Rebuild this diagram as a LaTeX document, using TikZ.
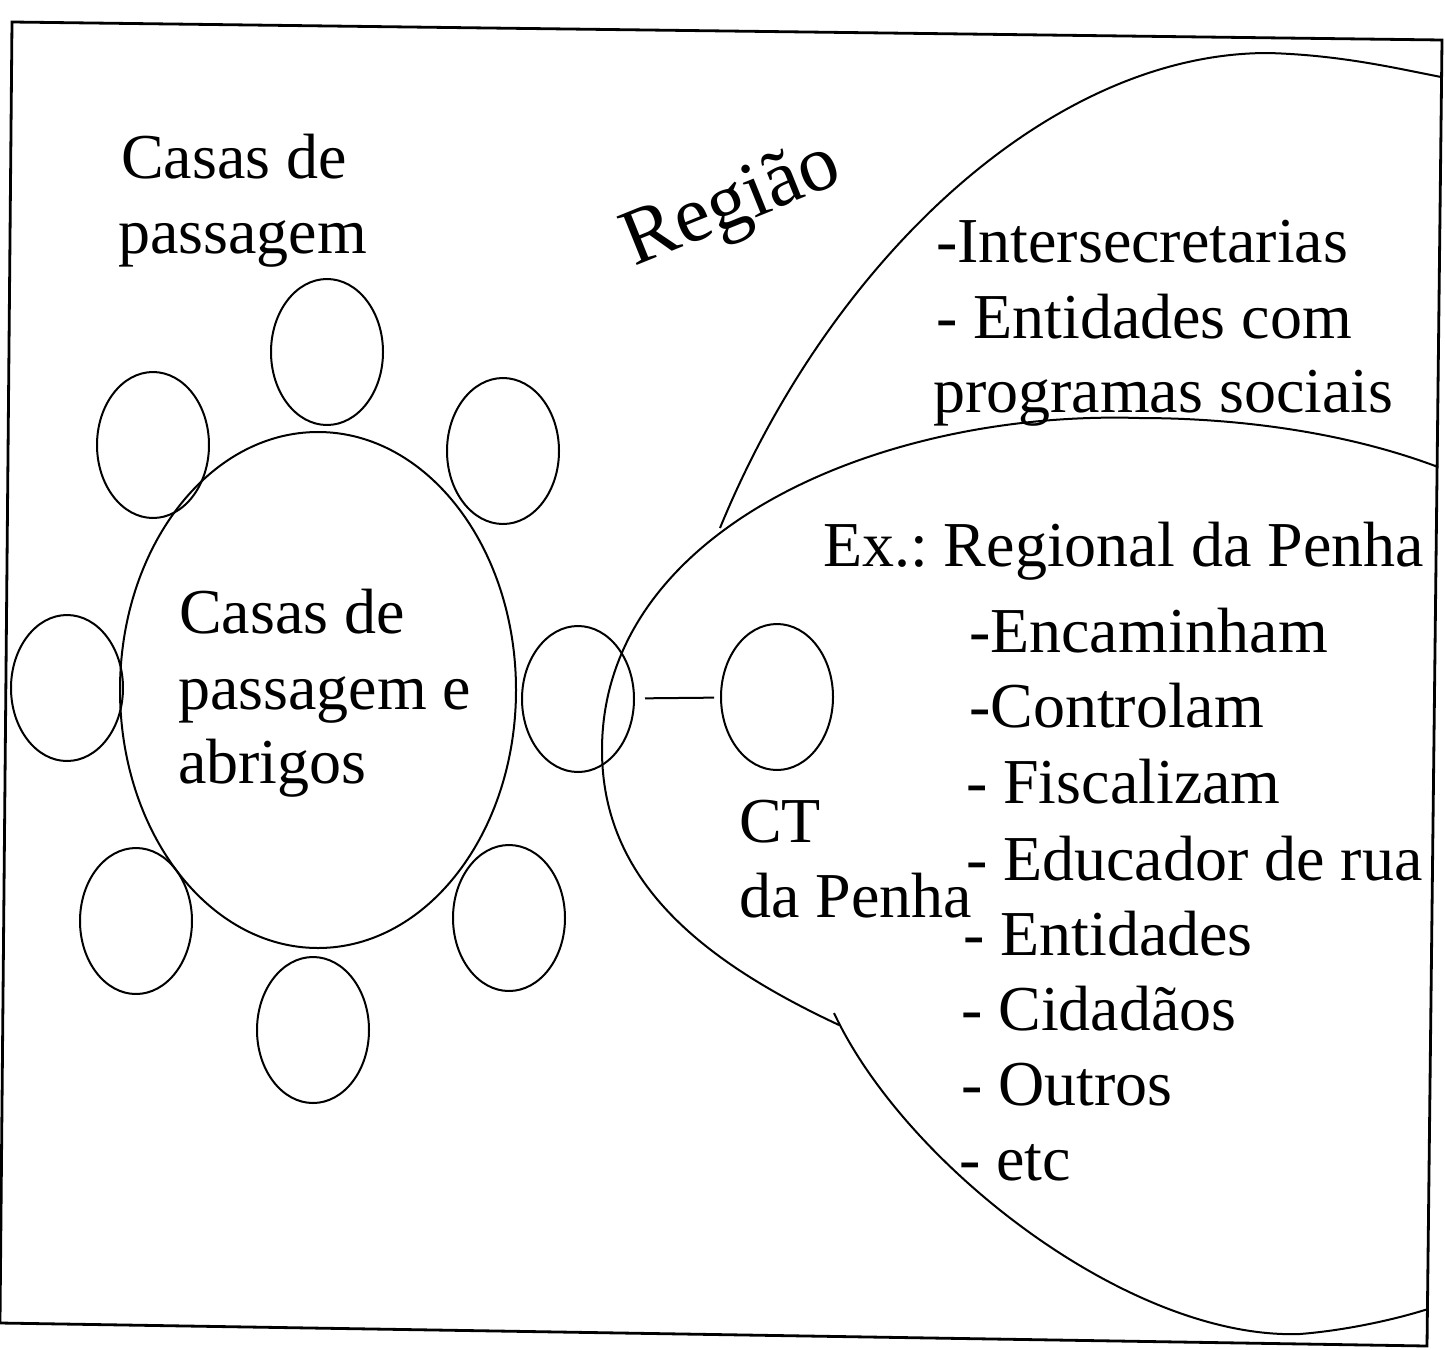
\documentclass[tikz,border=0pt]{standalone}
\usepackage{fontspec}
\setmainfont{Liberation Serif}
\frenchspacing
\usetikzlibrary{backgrounds}
\usetikzlibrary{shapes.geometric}

\begin{document}
\begin{tikzpicture}[
    x=0.5pt, y=-0.5pt, line width=1pt,
    house/.style={draw, ellipse, inner sep=0pt, minimum width=56pt, minimum height=73pt},
    hub/.style={draw, ellipse, inner sep=0pt, minimum width=198pt, minimum height=258pt},
    txt/.style={anchor=base west, inner sep=0pt, font=\fontsize{32}{37.5}\selectfont},
    background rectangle/.style={fill=white}, inner frame sep=0pt, show background rectangle]

    \useasboundingbox (0,0) rectangle (1445,1349);

    % outer frame (scan is slightly tilted)
    \draw [line width=1.4pt] (12,22) -- (1442,40) -- (1427,1346) -- (0,1323) -- cycle;

    % big ellipse with the houses round it
    \node [hub] at (318,690) (hub) {};
    \node [house] at (327,352) (n) {};
    \node [house] at (503,451) (ne) {};
    \node [house] at (578,699) (e) {};
    \node [house] at (509,918) (se) {};
    \node [house] at (313,1030) (s) {};
    \node [house] at (136,921) (sw) {};
    \node [house] at (67,688) (w) {};
    \node [house] at (153,445) (nw) {};

    % the CT and its link to the ring
    \node [house] at (777,697) (ct) {};
    \draw [shorten <=5pt, shorten >=3pt] (e) -- (ct);

    % region bubble (top)
    \draw (720,528) .. controls (830,260) and (1050,53) .. (1268,53)
        .. controls (1340,55) and (1395,68) .. (1441,77);

    % regional bubble, drawn in two strokes with a small kink
    \draw (1438,467) .. controls (1340,430) and (1230,418) .. (1139,418)
        .. controls (880,410) and (602,530) .. (602,750)
        .. controls (602,880) and (700,960) .. (839,1025);
    \draw (834,1013) .. controls (905,1165) and (1130,1340) .. (1300,1334)
        .. controls (1350,1330) and (1400,1318) .. (1428,1309);

    % labels
    \node [txt] at (120,178) (cp1) {Casas de};
    \node [txt] at (117,253) (cp2) {passagem};
    \node [txt] at (178,633) (ca1) {Casas de};
    \node [txt] at (177,709) (ca2) {passagem e};
    \node [txt] at (177,783) (ca3) {abrigos};
    \node [txt] at (738,842) (ct1) {CT};
    \node [txt] at (738,917) (ct2) {da Penha};
    \node [rotate=22, inner sep=0pt, font=\fontsize{40}{48}\selectfont] at (733,207) (regiao) {Região};

    \node [txt] at (935,262) (reg1) {-Intersecretarias};
    \node [txt] at (935,338) (reg2) {- Entidades com};
    \node [txt] at (932,412) (reg3) {programas sociais};
    \node [txt] at (822,566) (ex) {Ex.: Regional da Penha};

    \foreach \xx/\yy/\item [count=\i] in {968/652/-Encaminham, 968/727/-Controlam,
        965/803/- Fiscalizam, 965/880/- Educador de rua, 962/955/- Entidades,
        960/1030/- Cidadãos, 960/1105/- Outros, 958/1180/- etc}
        \node [txt] at (\xx,\yy) (item\i) {\item};

\end{tikzpicture}
\end{document}
